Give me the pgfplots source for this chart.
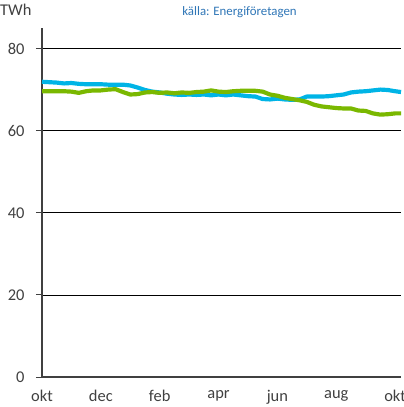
\documentclass[border=0pt]{standalone}
\usepackage{fontspec}
\setmainfont{Carlito}
\usepackage{pgfplots}
\pgfplotsset{compat=1.18}
\definecolor{lineblue}{HTML}{00B4E6}
\definecolor{linegreen}{HTML}{7AB800}
\definecolor{srcblue}{HTML}{2E75B6}
\definecolor{axisgray}{HTML}{404040}

\pgfplotstableread{
m v
0 71.9
0.25 71.8
0.5 71.7
0.75 71.5
1.0 71.6
1.25 71.4
1.5 71.3
1.75 71.3
2.0 71.3
2.25 71.2
2.5 71.2
2.75 71.2
3.0 71.0
3.25 70.5
3.5 69.9
3.75 69.5
4.0 69.3
4.25 69.0
4.5 68.8
4.75 68.7
5.0 68.8
5.25 68.7
5.5 68.8
5.75 68.6
6.0 68.8
6.25 68.6
6.5 68.8
6.75 68.6
7.0 68.4
7.25 68.3
7.5 67.7
7.75 67.6
8.0 67.8
8.25 67.6
8.5 67.5
8.75 67.6
9.0 68.3
9.25 68.3
9.5 68.3
9.75 68.4
10.0 68.6
10.25 68.8
10.5 69.3
10.75 69.5
11.0 69.6
11.25 69.8
11.5 70.0
11.75 69.9
12.0 69.6
12.2 69.4
}\bluedata

\pgfplotstableread{
m v
0 69.6
0.25 69.6
0.5 69.6
0.75 69.6
1.0 69.5
1.25 69.2
1.5 69.6
1.75 69.8
2.0 69.8
2.25 70.0
2.5 70.1
2.75 69.4
3.0 68.8
3.25 68.9
3.5 69.3
3.75 69.4
4.0 69.2
4.25 69.3
4.5 69.1
4.75 69.3
5.0 69.2
5.25 69.4
5.5 69.5
5.75 69.8
6.0 69.5
6.25 69.4
6.5 69.6
6.75 69.7
7.0 69.7
7.25 69.7
7.5 69.5
7.75 68.8
8.0 68.5
8.25 68.0
8.5 67.7
8.75 67.4
9.0 67.0
9.25 66.3
9.5 65.9
9.75 65.7
10.0 65.5
10.25 65.4
10.5 65.4
10.75 64.9
11.0 64.8
11.25 64.2
11.5 63.9
11.75 64.0
12.0 64.2
12.2 64.2
}\greendata

\begin{document}
\begin{tikzpicture}
\useasboundingbox (-42bp,-30bp) rectangle (362bp,377bp);
\begin{axis}[
    at={(0,0)}, anchor=origin,
    scale only axis,
    width=359bp, height=349bp,
    xmin=0, xmax=12.2,
    ymin=0, ymax=85,
    axis x line*=bottom,
    axis y line*=left,
    axis line style={axisgray, line width=1.6pt},
    xtick={0,2,4,6,8,10,12},
    xticklabels={okt,dec,feb,apr,jun,aug,okt},
    ytick={0,20,40,60,80},
    ymajorgrids,
    grid style={black, line width=0.6pt},
    major x tick style={draw=none},
    major y tick style={axisgray, line width=1pt},
    tick align=outside,
    major tick length=6bp,
    tick label style={font=\fontsize{16.5}{18}\selectfont, text=black!75},
    /pgf/number format/assume math mode=true,
    xticklabel style={yshift=-4bp},
    yticklabel style={xshift=-8bp},
    clip=false,
]
\addplot[lineblue, line width=4.2pt, line join=round] table[x=m, y=v] {\bluedata};
\addplot[linegreen, line width=4.2pt, line join=round] table[x=m, y=v] {\greendata};
\end{axis}
\node[anchor=west, inner sep=0pt, font=\fontsize{16.5}{18}\selectfont, text=black!75] at (-42bp,367bp) {TWh};
\node[font=\fontsize{12.9}{14}\selectfont, text=srcblue] at (197.5bp,365bp) {källa: Energiföretagen};
\end{tikzpicture}
\end{document}
